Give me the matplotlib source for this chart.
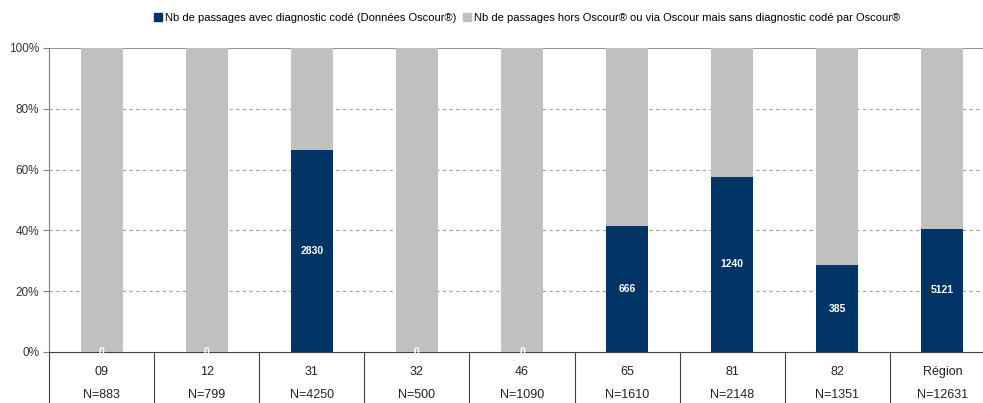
import numpy as np
import matplotlib.pyplot as plt
from matplotlib.patches import Patch

plt.rcParams['font.family'] = ['Liberation Sans', 'DejaVu Sans']

categories = ["09", "12", "31", "32", "46", "65", "81", "82", "Région"]
totals = [883, 799, 4250, 500, 1090, 1610, 2148, 1351, 12631]
coded = [0, 0, 2830, 0, 0, 666, 1240, 385, 5121]

dark = "#003366"
grey = "#C0C0C0"

coded = np.array(coded)
totals = np.array(totals)
pct_coded = coded / totals * 100
pct_other = 100 - pct_coded

fig = plt.figure(figsize=(9.83, 4.03), dpi=100)
ax = fig.add_axes([49/983, 51/403, 946/983, 304/403])

x = np.arange(len(categories))
ax.bar(x, pct_coded, width=0.4, color=dark, zorder=3)
ax.bar(x, pct_other, width=0.4, bottom=pct_coded, color=grey, zorder=3)

for i in range(len(categories)):
    ax.text(x[i], pct_coded[i] / 2, str(coded[i]), color="white", fontsize=7.5,
            fontweight="bold", ha="center", va="center", zorder=4)

ax.set_xlim(-0.5, len(categories) - 0.5)
ax.set_ylim(0, 100)
ax.set_yticks([0, 20, 40, 60, 80, 100])
ax.set_yticklabels(["0%", "20%", "40%", "60%", "80%", "100%"], fontsize=8.5, color="#333333")
ax.tick_params(axis="y", length=4, color="#808080", pad=3)
ax.set_xticks([])

for y in [20, 40, 60, 80]:
    ax.axhline(y, color="#A0A0A0", linestyle=(0, (3, 3)), linewidth=0.8, zorder=1)
ax.axhline(100, color="#808080", linewidth=1.2, zorder=2)

for s in ["top", "right"]:
    ax.spines[s].set_visible(False)
ax.spines["left"].set_color("#808080")
ax.spines["bottom"].set_color("#404040")

# category table under the axis
trans = ax.get_xaxis_transform()
for b in np.arange(-0.5, len(categories), 1.0):
    ax.plot([b, b], [0, -0.2], color="#404040", linewidth=0.8, transform=trans, clip_on=False)
for i, cat in enumerate(categories):
    ax.text(x[i], -0.066, cat, fontsize=9, ha="center", va="center", transform=trans, color="#222222")
    ax.text(x[i], -0.142, "N=%d" % totals[i], fontsize=9, ha="center", va="center", transform=trans, color="#222222")

handles = [Patch(color=dark), Patch(color=grey)]
labels = ["Nb de passages avec diagnostic codé (Données Oscour®)",
          "Nb de passages hors Oscour® ou via Oscour mais sans diagnostic codé par Oscour®"]
fig.legend(handles, labels, loc="center", bbox_to_anchor=(527/983, 1 - 18/403), ncol=2,
           frameon=False, fontsize=8, handlelength=0.7, handleheight=0.7,
           handletextpad=0.3, columnspacing=0.6)

fig.savefig("out.png")
plt.close(fig)
